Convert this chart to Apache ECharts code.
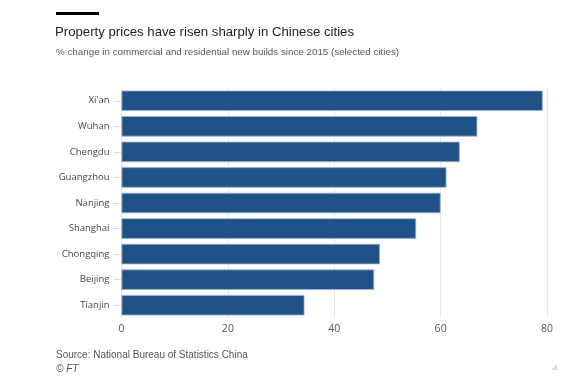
<!DOCTYPE html>
<html><head><meta charset="utf-8">
<script src="https://cdn.jsdelivr.net/npm/echarts@6/dist/echarts.min.js"></script>
<style>html,body{margin:0;padding:0;background:#fff}#c{width:585px;height:382px}</style>
</head><body><div id="c"></div>
<script>
var cities = ["Xi'an","Wuhan","Chengdu","Guangzhou","Nanjing","Shanghai","Chongqing","Beijing","Tianjin"];
var changes = [79.2, 66.9, 63.6, 61.1, 60.0, 55.4, 48.6, 47.5, 34.4];
var xTicks = [0, 20, 40, 60, 80];
var titleText = "Property prices have risen sharply in Chinese cities";
var subtitleText = "% change in commercial and residential new builds since 2015 (selected cities)";
var sourceText = "Source: National Bureau of Statistics China";
var creditText = "© FT";

var chart = echarts.init(document.getElementById('c'), null, {renderer:'canvas'});
var font = "'Open Sans', sans-serif";
var narrow = "'Liberation Sans Narrow', 'Arial Narrow', sans-serif";
chart.setOption({
  animation:false,
  backgroundColor:'#fff',
  grid:{left:121.5, right:585-547, top:88, bottom:382-318, containLabel:false},
  xAxis:{type:'value', min:xTicks[0], max:xTicks[xTicks.length-1], interval:20,
    axisLine:{show:false}, axisTick:{show:false},
    splitLine:{show:true, lineStyle:{color:'#ece8e6', width:1}},
    axisLabel:{color:'#555', fontFamily:font, fontSize:10.5, margin:6}},
  yAxis:{type:'category', data:cities, inverse:true,
    axisLine:{show:true, lineStyle:{color:'#e0dcd9'}},
    axisTick:{show:true, alignWithLabel:true, length:8, lineStyle:{color:'#e0dcd9'}},
    axisLabel:{color:'#444', fontFamily:font, fontSize:9.5, margin:12}},
  series:[{type:'bar', data:changes, barCategoryGap:'20%',
    itemStyle:{color:'#205288', borderColor:'#9db3cc', borderWidth:0.8}}],
  graphic:[
    {type:'rect', left:56, top:12, shape:{width:43, height:3}, style:{fill:'#000'}},
    {type:'text', left:55, top:26, style:{text:titleText, fill:'#222', font:"13.2px " + narrow}},
    {type:'text', left:56, top:47, style:{text:subtitleText, fill:'#555', font:"9.8px " + narrow}},
    {type:'text', left:56, top:350, style:{text:sourceText, fill:'#555', font:"10px " + narrow}},
    {type:'text', left:56, top:364, style:{text:creditText, fill:'#555', font:"italic 10px " + narrow}},
    {type:'polygon', shape:{points:[[557,364],[557,370],[551,370]]}, style:{fill:'#e6dcd4'}}
  ]
});
</script></body></html>
